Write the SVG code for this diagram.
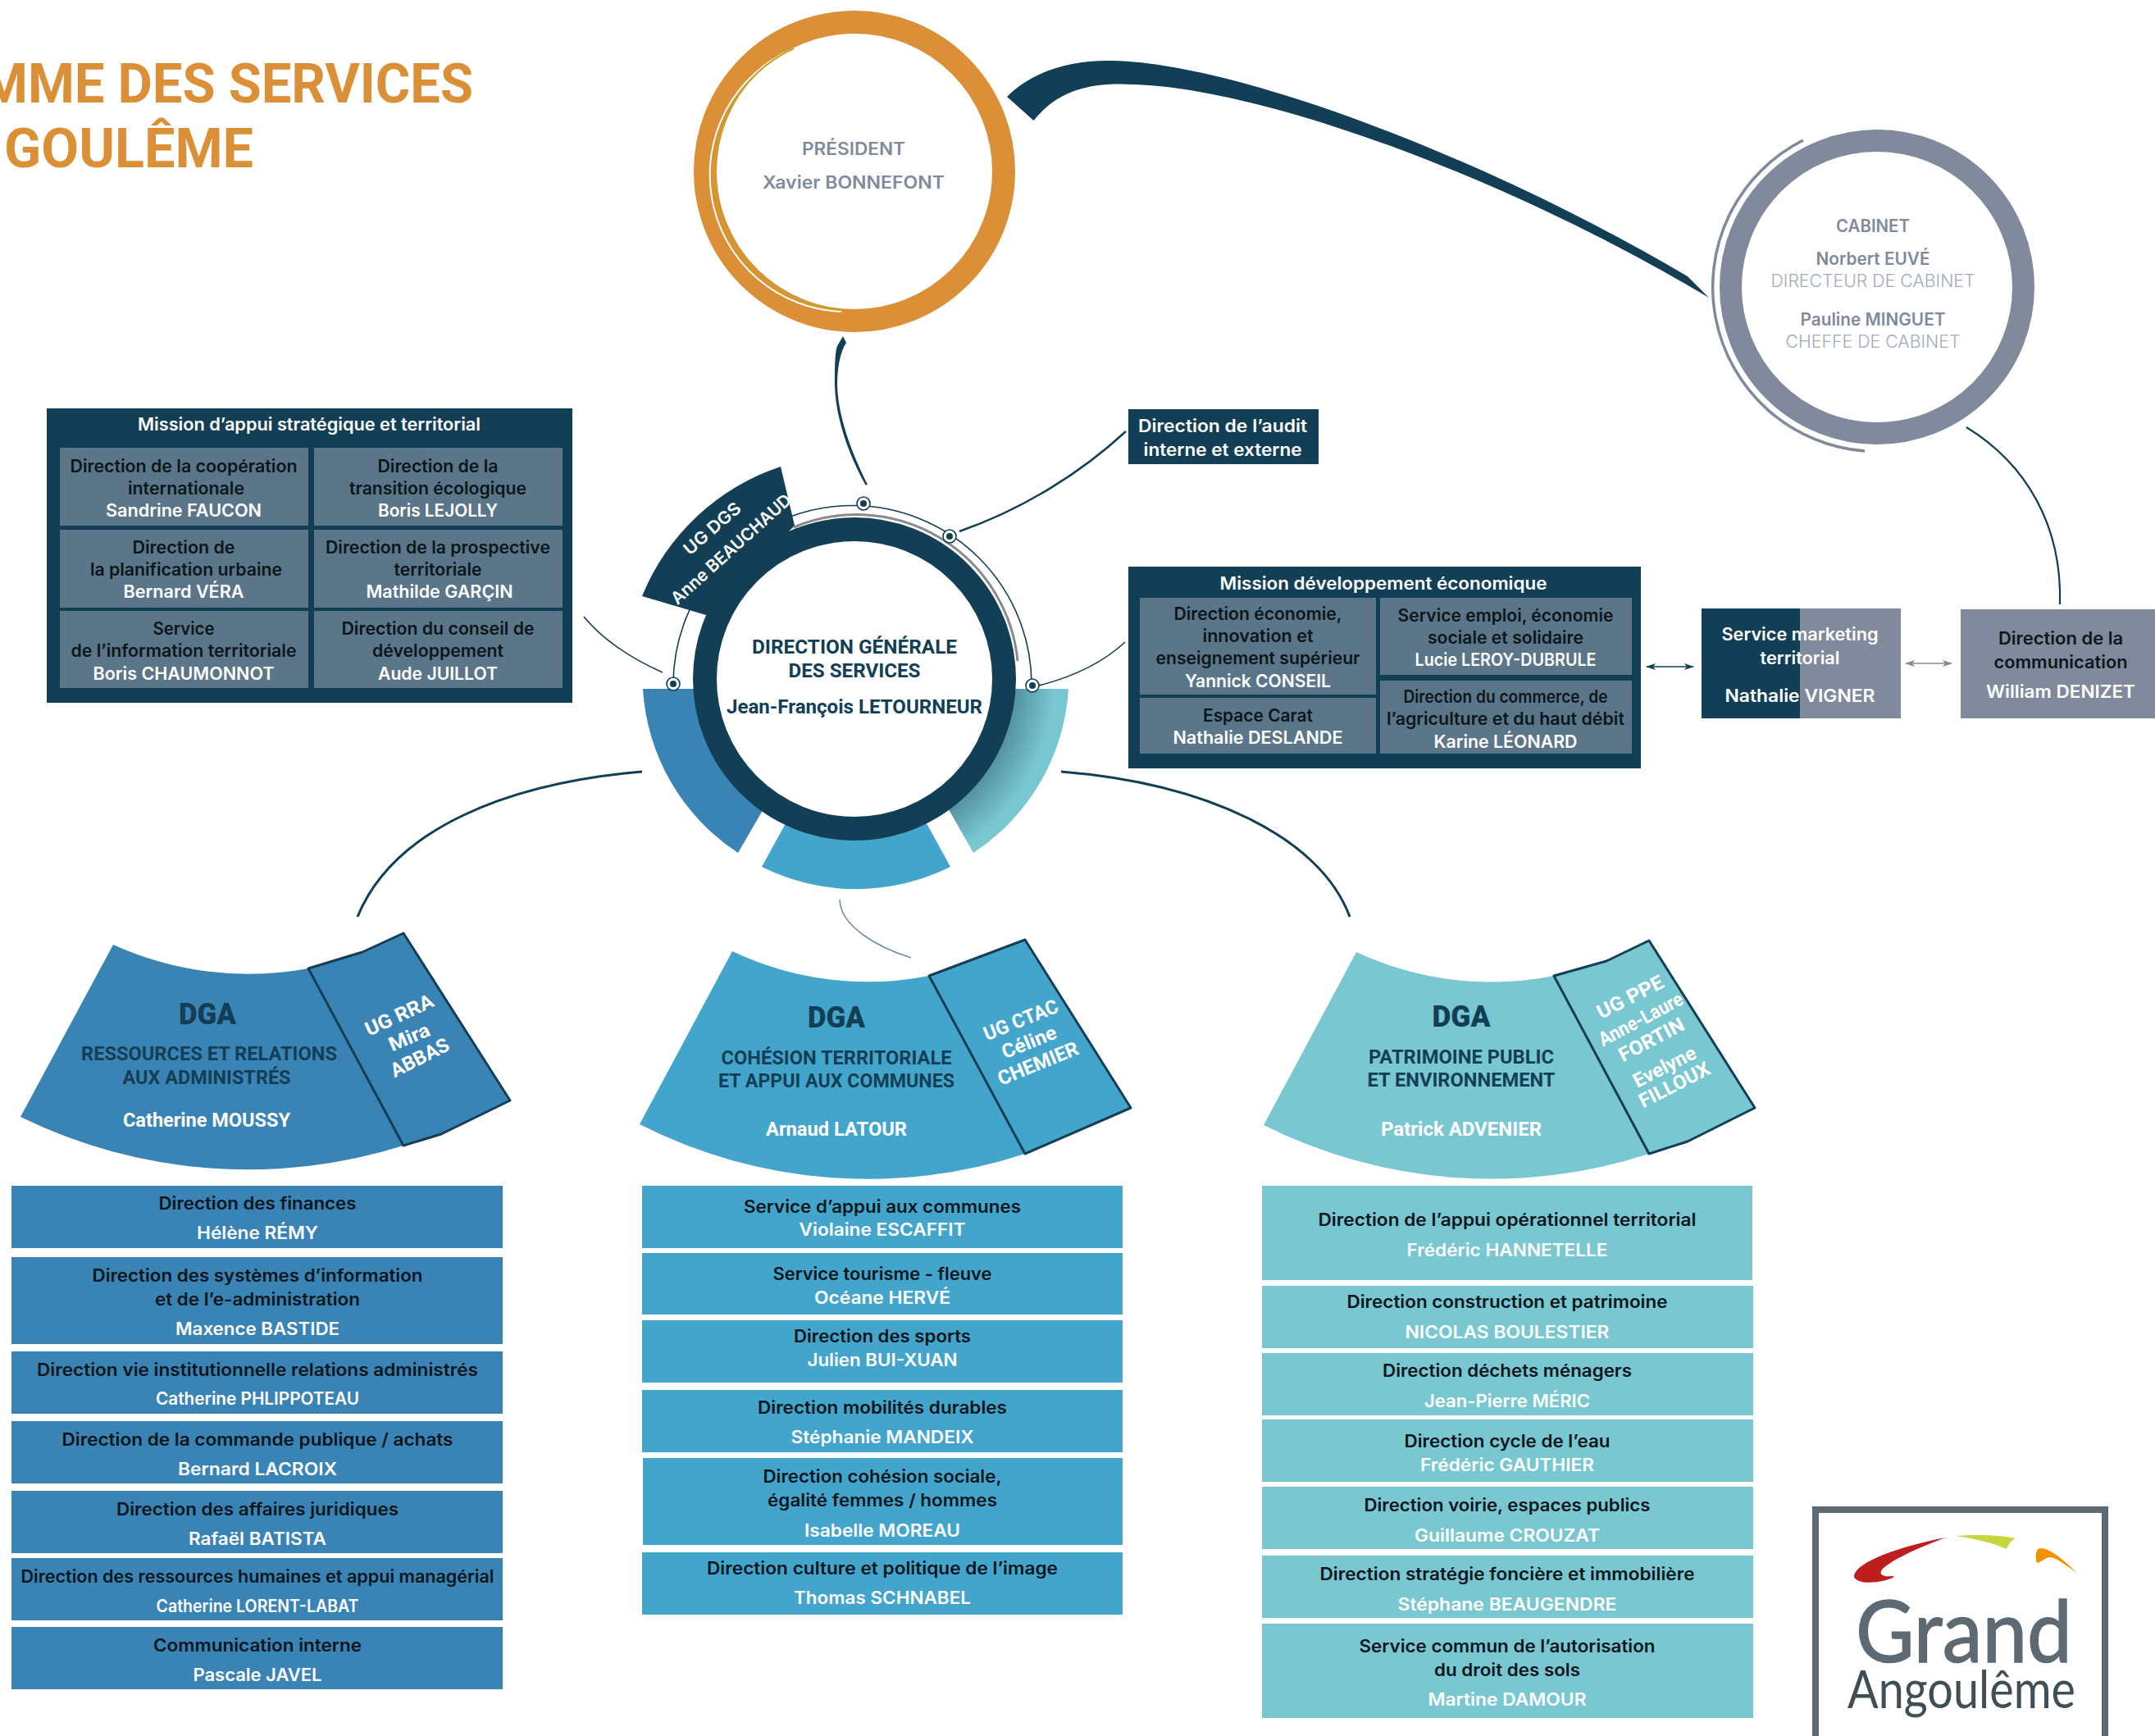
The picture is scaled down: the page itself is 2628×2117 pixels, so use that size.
<svg xmlns="http://www.w3.org/2000/svg" width="2628" height="2117" viewBox="0 0 2628 2117">
<style>
text{text-anchor:middle}
.b{font-family:"Inter","Liberation Sans",sans-serif;font-weight:600;font-size:21px}
.n{font-family:"Roboto","Liberation Sans",sans-serif;font-weight:700;font-size:24px}
.h{font-family:"Roboto","Liberation Sans",sans-serif;font-weight:900;font-size:36px;fill:#123F55}
.l{font-family:"Inter","Liberation Sans",sans-serif;font-weight:300;font-size:21px;fill:#A3ABB8}
.k{fill:#0B161C}.w{fill:#fff}.g{fill:#7F8A9C}.dk{fill:#123F55}
.ttl{font-family:"Roboto","Liberation Sans",sans-serif;font-weight:700;font-size:67px;fill:#DB8F37}
.c1{fill:#3A83B5}.c2{fill:#43A5CC}.c3{fill:#79C7D1}.cell{fill:#5A7688}.dark{fill:#123F55}.gr{fill:#808A9C}
.pan{fill:none;stroke:#123F55;stroke-width:3;stroke-linejoin:round}
.ln{fill:none;stroke:#123F55}
.dot{fill:#fff;stroke:#123F55;stroke-width:1.6}
</style>
<defs>
<marker id="ad" viewBox="0 0 12 8" refX="11" refY="4" markerWidth="12" markerHeight="8" markerUnits="userSpaceOnUse" orient="auto-start-reverse"><path d="M12,4 L0,0 L3,4 L0,8 Z" fill="#123F55"/></marker>
<marker id="ag" viewBox="0 0 12 8" refX="11" refY="4" markerWidth="12" markerHeight="8" markerUnits="userSpaceOnUse" orient="auto-start-reverse"><path d="M12,4 L0,0 L3,4 L0,8 Z" fill="#808A9C"/></marker>
<radialGradient id="sh" gradientUnits="userSpaceOnUse" cx="1042" cy="828" r="257"><stop offset="0.74" stop-color="#4F8C99"/><stop offset="0.95" stop-color="#79C7D1"/></radialGradient>
</defs>

<g id="title">
<text class="ttl" x="577" y="125" style="text-anchor:end" textLength="600" lengthAdjust="spacingAndGlyphs">MME DES SERVICES</text>
<text class="ttl" x="157" y="204" textLength="304" lengthAdjust="spacingAndGlyphs">GOULÊME</text>
</g>

<g id="connectors">
<path fill="#123F55" d="M1228,118 C1255,90 1300,73 1356,74 C1500,76 1800,185 2058,337 L2084,363 C1810,200 1520,106 1382,103 C1330,100 1290,110 1260.5,147 Z"/>
<path fill="#123F55" d="M1028,410 L1032,418 C1024,430 1021,450 1021,470 C1022,510 1040,555 1058,591 L1055.5,591.5 C1035,555 1019,510 1018,470 C1018,450 1018,430 1021,422 Z"/>
<path class="ln" stroke-width="2.5" d="M1170,648 C1250,620 1320,575 1373,526"/>
<path class="ln" stroke-width="1.6" d="M808,820 C770,803 735,780 712,752"/>
<path class="ln" stroke-width="1.6" d="M1267,836 C1310,825 1345,808 1372,783"/>
<path class="ln" stroke-width="3" d="M783,941 C620,955 480,1010 436,1118"/>
<path class="ln" stroke-width="3" d="M1294,941 C1470,955 1610,1020 1646,1118"/>
<path fill="none" stroke="#6F93A3" stroke-width="1.6" d="M1024,1097 C1025,1130 1070,1155 1111,1168"/>
<path class="ln" stroke-width="2.2" d="M2398,521 C2470,565 2515,640 2512,737"/>
<line x1="2008" y1="813" x2="2065" y2="813" stroke="#123F55" stroke-width="1.5" marker-start="url(#ad)" marker-end="url(#ad)"/>
<line x1="2324" y1="809" x2="2380" y2="809" stroke="#808A9C" stroke-width="1.5" marker-start="url(#ag)" marker-end="url(#ag)"/>
</g>

<g id="president">
<circle cx="1042" cy="209" r="182" fill="none" stroke="#DB8F37" stroke-width="28"/>
<path fill="none" stroke="#fff" stroke-width="2" d="M966,60 A167,167 0 0 0 1026,380"/>
<path fill="none" stroke="#C9A227" stroke-width="2" d="M968,59 A165,167 0 0 0 1028,378"/>
<text class="b g" x="1041" y="189" textLength="126" lengthAdjust="spacingAndGlyphs">PRÉSIDENT</text>
<text class="b g" x="1041" y="230" textLength="222" lengthAdjust="spacingAndGlyphs">Xavier BONNEFONT</text>
</g>

<g id="cabinet">
<circle cx="2289" cy="350" r="178.5" fill="none" stroke="#808A9C" stroke-width="27"/>
<path fill="none" stroke="#808A9C" stroke-width="3.5" d="M2199,171 A200.5,200.5 0 0 0 2274,550"/>
<text class="b g" x="2284" y="283" textLength="90" lengthAdjust="spacingAndGlyphs">CABINET</text>
<text class="b g" x="2284" y="323" textLength="139" lengthAdjust="spacingAndGlyphs">Norbert EUVÉ</text>
<text class="l" x="2284" y="350" textLength="249" lengthAdjust="spacingAndGlyphs">DIRECTEUR DE CABINET</text>
<text class="b g" x="2284" y="397" textLength="177" lengthAdjust="spacingAndGlyphs">Pauline MINGUET</text>
<text class="l" x="2284" y="424" textLength="213" lengthAdjust="spacingAndGlyphs">CHEFFE DE CABINET</text>
</g>

<g id="service-marketing">
<rect class="dark" x="2075" y="742" width="120" height="134"/>
<rect class="gr" x="2195" y="742" width="123" height="134"/>
<text class="b w" x="2195" y="781" textLength="191" lengthAdjust="spacingAndGlyphs">Service marketing</text>
<text class="b w" x="2195" y="810" textLength="97" lengthAdjust="spacingAndGlyphs">territorial</text>
<text class="b w" x="2195" y="856" textLength="183" lengthAdjust="spacingAndGlyphs">Nathalie VIGNER</text>
</g>

<g id="direction-communication">
<rect class="gr" x="2391" y="743" width="237" height="133"/>
<text class="b k" x="2513" y="786" textLength="152" lengthAdjust="spacingAndGlyphs">Direction de la</text>
<text class="b k" x="2513" y="815" textLength="163" lengthAdjust="spacingAndGlyphs">communication</text>
<text class="b w" x="2513" y="851" textLength="182" lengthAdjust="spacingAndGlyphs">William DENIZET</text>
</g>

<g id="dgs">
<path fill="none" stroke="#123F55" stroke-width="1.6" d="M821,834 A218.5,218.5 0 0 1 1258,836"/>
<path class="c1" d="M784,840 A257,257 0 0 0 900,1040 L929,990 L1000,900 L850,840 Z"/>
<path class="c2" d="M929,1057 A257,257 0 0 0 1159,1057 L1131,1006 L1042,900 L957,1006 Z"/>
<path fill="url(#sh)" d="M1303,840 A257,257 0 0 1 1187,1040 L1158,989 L1100,900 L1230,840 Z"/>
<path class="dark" d="M783,727 A276,276 0 0 1 952,569 L969,641 L861,750 Z"/>
<path fill="none" stroke="#8A8A8A" stroke-width="3" d="M968,643 A197.5,197.5 0 0 1 1241,806"/>
<circle cx="1042" cy="828" r="182.5" fill="#fff" stroke="#123F55" stroke-width="29"/>
<circle class="dot" cx="821" cy="834" r="8"/><circle class="dark" cx="821" cy="834" r="4"/>
<circle class="dot" cx="1053" cy="614" r="8"/><circle class="dark" cx="1053" cy="614" r="4"/>
<circle class="dot" cx="1158" cy="654" r="8"/><circle class="dark" cx="1158" cy="654" r="4"/>
<circle class="dot" cx="1259" cy="836" r="8"/><circle class="dark" cx="1259" cy="836" r="4"/>
<text class="n dk" x="1042" y="797" textLength="250" lengthAdjust="spacingAndGlyphs">DIRECTION GÉNÉRALE</text>
<text class="n dk" x="1042" y="826" textLength="161" lengthAdjust="spacingAndGlyphs">DES SERVICES</text>
<text class="n dk" x="1042" y="870" textLength="312" lengthAdjust="spacingAndGlyphs">Jean-François LETOURNEUR</text>
<text class="b w" transform="translate(868,644) rotate(-41)" y="8" textLength="85" lengthAdjust="spacingAndGlyphs">UG DGS</text>
<text class="b w" transform="translate(891,669) rotate(-42)" y="8" textLength="189" lengthAdjust="spacingAndGlyphs">Anne BEAUCHAUD</text>
</g>

<g id="mission-appui">
<rect class="dark" x="57" y="498" width="641" height="359"/>
<rect class="cell" x="73" y="546" width="303" height="95"/><rect class="cell" x="383" y="546" width="303" height="95"/>
<rect class="cell" x="73" y="646" width="303" height="95"/><rect class="cell" x="383" y="646" width="303" height="95"/>
<rect class="cell" x="73" y="745" width="303" height="94"/><rect class="cell" x="383" y="745" width="303" height="94"/>
<text class="b w" x="377" y="525" textLength="418" lengthAdjust="spacingAndGlyphs">Mission d’appui stratégique et territorial</text>
<text class="b k" x="224" y="576" textLength="277" lengthAdjust="spacingAndGlyphs">Direction de la coopération</text>
<text class="b k" x="227" y="603" textLength="142" lengthAdjust="spacingAndGlyphs">internationale</text>
<text class="b w" x="224" y="630" textLength="190" lengthAdjust="spacingAndGlyphs">Sandrine FAUCON</text>
<text class="b k" x="534" y="576" textLength="147" lengthAdjust="spacingAndGlyphs">Direction de la</text>
<text class="b k" x="534" y="603" textLength="216" lengthAdjust="spacingAndGlyphs">transition écologique</text>
<text class="b w" x="534" y="630" textLength="146" lengthAdjust="spacingAndGlyphs">Boris LEJOLLY</text>
<text class="b k" x="224" y="675" textLength="125" lengthAdjust="spacingAndGlyphs">Direction de</text>
<text class="b k" x="227" y="702" textLength="234" lengthAdjust="spacingAndGlyphs">la planification urbaine</text>
<text class="b w" x="224" y="729" textLength="147" lengthAdjust="spacingAndGlyphs">Bernard VÉRA</text>
<text class="b k" x="534" y="675" textLength="274" lengthAdjust="spacingAndGlyphs">Direction de la prospective</text>
<text class="b k" x="534" y="702" textLength="107" lengthAdjust="spacingAndGlyphs">territoriale</text>
<text class="b w" x="536" y="729" textLength="179" lengthAdjust="spacingAndGlyphs">Mathilde GARÇIN</text>
<text class="b k" x="224" y="774" textLength="75" lengthAdjust="spacingAndGlyphs">Service</text>
<text class="b k" x="224" y="801" textLength="275" lengthAdjust="spacingAndGlyphs">de l’information territoriale</text>
<text class="b w" x="224" y="829" textLength="221" lengthAdjust="spacingAndGlyphs">Boris CHAUMONNOT</text>
<text class="b k" x="534" y="774" textLength="235" lengthAdjust="spacingAndGlyphs">Direction du conseil de</text>
<text class="b k" x="534" y="801" textLength="160" lengthAdjust="spacingAndGlyphs">développement</text>
<text class="b w" x="534" y="829" textLength="146" lengthAdjust="spacingAndGlyphs">Aude JUILLOT</text>
</g>

<g id="direction-audit">
<rect class="dark" x="1376" y="499" width="232" height="67"/>
<text class="b w" x="1491" y="527" textLength="206" lengthAdjust="spacingAndGlyphs">Direction de l’audit</text>
<text class="b w" x="1491" y="556" textLength="193" lengthAdjust="spacingAndGlyphs">interne et externe</text>
</g>

<g id="mission-eco">
<rect class="dark" x="1376" y="691" width="625" height="246"/>
<rect class="cell" x="1390" y="729" width="288" height="118"/><rect class="cell" x="1390" y="851" width="288" height="68"/>
<rect class="cell" x="1683" y="729" width="307" height="94"/><rect class="cell" x="1683" y="830" width="307" height="89"/>
<text class="b w" x="1687" y="719" textLength="399" lengthAdjust="spacingAndGlyphs">Mission développement économique</text>
<text class="b k" x="1534" y="756" textLength="205" lengthAdjust="spacingAndGlyphs">Direction économie,</text>
<text class="b k" x="1534" y="783" textLength="135" lengthAdjust="spacingAndGlyphs">innovation et</text>
<text class="b k" x="1534" y="810" textLength="249" lengthAdjust="spacingAndGlyphs">enseignement supérieur</text>
<text class="b w" x="1534" y="838" textLength="178" lengthAdjust="spacingAndGlyphs">Yannick CONSEIL</text>
<text class="b k" x="1534" y="880" textLength="134" lengthAdjust="spacingAndGlyphs">Espace Carat</text>
<text class="b w" x="1534" y="907" textLength="207" lengthAdjust="spacingAndGlyphs">Nathalie DESLANDE</text>
<text class="b k" x="1836" y="758" textLength="263" lengthAdjust="spacingAndGlyphs">Service emploi, économie</text>
<text class="b k" x="1836" y="785" textLength="190" lengthAdjust="spacingAndGlyphs">sociale et solidaire</text>
<text class="b w" x="1836" y="812" textLength="221" lengthAdjust="spacingAndGlyphs">Lucie LEROY-DUBRULE</text>
<text class="b k" x="1836" y="857" textLength="249" lengthAdjust="spacingAndGlyphs">Direction du commerce, de</text>
<text class="b k" x="1836" y="884" textLength="290" lengthAdjust="spacingAndGlyphs">l’agriculture et du haut débit</text>
<text class="b w" x="1836" y="912" textLength="175" lengthAdjust="spacingAndGlyphs">Karine LÉONARD</text>
</g>

<g id="dga-ressources">
<path class="c1" d="M138,1152 A400,400 0 0 0 376,1181 L442,1161 L492,1138 L622,1342 L538,1383 L492,1397 A631,631 0 0 1 25,1362 Z"/>
<path class="pan" d="M376,1181 L442,1161 L492,1138 L622,1342 L538,1383 L492,1397 Z"/>
<text class="h" x="253" y="1249" textLength="70" lengthAdjust="spacingAndGlyphs">DGA</text>
<text class="n dk" x="255" y="1293" textLength="312" lengthAdjust="spacingAndGlyphs">RESSOURCES ET RELATIONS</text>
<text class="n dk" x="252" y="1322" textLength="205" lengthAdjust="spacingAndGlyphs">AUX ADMINISTRÉS</text>
<text class="n w" x="252" y="1374" textLength="204" lengthAdjust="spacingAndGlyphs">Catherine MOUSSY</text>
<text class="n w" transform="translate(487,1238) rotate(-25)" y="8" textLength="89" lengthAdjust="spacingAndGlyphs">UG RRA</text>
<text class="n w" transform="translate(499,1265) rotate(-23)" y="8" textLength="52" lengthAdjust="spacingAndGlyphs">Mira</text>
<text class="n w" transform="translate(512,1290) rotate(-27)" y="8" textLength="77" lengthAdjust="spacingAndGlyphs">ABBAS</text>
</g>

<g id="dga-cohesion">
<path class="c2" d="M893,1160 A385,385 0 0 0 1133,1190 L1250,1146 L1379,1351 L1250,1407 A614,614 0 0 1 780,1371 Z"/>
<path class="pan" d="M1133,1190 L1250,1146 L1379,1351 L1250,1407 Z"/>
<text class="h" x="1020" y="1253" textLength="70" lengthAdjust="spacingAndGlyphs">DGA</text>
<text class="n dk" x="1020" y="1298" textLength="281" lengthAdjust="spacingAndGlyphs">COHÉSION TERRITORIALE</text>
<text class="n dk" x="1020" y="1326" textLength="288" lengthAdjust="spacingAndGlyphs">ET APPUI AUX COMMUNES</text>
<text class="n w" x="1020" y="1385" textLength="172" lengthAdjust="spacingAndGlyphs">Arnaud LATOUR</text>
<text class="n w" transform="translate(1245,1244) rotate(-22)" y="8" textLength="96" lengthAdjust="spacingAndGlyphs">UG CTAC</text>
<text class="n w" transform="translate(1255,1271) rotate(-22)" y="8" textLength="70" lengthAdjust="spacingAndGlyphs">Céline</text>
<text class="n w" transform="translate(1266,1297) rotate(-22)" y="8" textLength="104" lengthAdjust="spacingAndGlyphs">CHEMIER</text>
</g>

<g id="dga-patrimoine">
<path class="c3" d="M1654,1161 A390,390 0 0 0 1895,1190 L1959,1172 L2011,1147 L2140,1351 L2058,1392 L2011,1407 A620,620 0 0 1 1541,1372 Z"/>
<path class="pan" d="M1895,1190 L1959,1172 L2011,1147 L2140,1351 L2058,1392 L2011,1407 Z"/>
<text class="h" x="1782" y="1252" textLength="71" lengthAdjust="spacingAndGlyphs">DGA</text>
<text class="n dk" x="1782" y="1297" textLength="226" lengthAdjust="spacingAndGlyphs">PATRIMOINE PUBLIC</text>
<text class="n dk" x="1782" y="1325" textLength="229" lengthAdjust="spacingAndGlyphs">ET ENVIRONNEMENT</text>
<text class="n w" x="1782" y="1385" textLength="196" lengthAdjust="spacingAndGlyphs">Patrick ADVENIER</text>
<text class="n w" transform="translate(1988,1216) rotate(-27)" y="8" textLength="88" lengthAdjust="spacingAndGlyphs">UG PPE</text>
<text class="n w" transform="translate(2001,1243) rotate(-28)" y="8" textLength="113" lengthAdjust="spacingAndGlyphs">Anne-Laure</text>
<text class="n w" transform="translate(2014,1268) rotate(-28)" y="8" textLength="87" lengthAdjust="spacingAndGlyphs">FORTIN</text>
<text class="n w" transform="translate(2030,1301) rotate(-27)" y="8" textLength="83" lengthAdjust="spacingAndGlyphs">Evelyne</text>
<text class="n w" transform="translate(2042,1323) rotate(-27)" y="8" textLength="94" lengthAdjust="spacingAndGlyphs">FILLOUX</text>
</g>

<g id="col-ressources">
<rect class="c1" x="14" y="1446" width="599" height="76"/><rect class="c1" x="14" y="1533" width="599" height="106"/><rect class="c1" x="14" y="1648" width="599" height="76"/><rect class="c1" x="14" y="1733" width="599" height="76"/><rect class="c1" x="14" y="1818" width="599" height="76"/><rect class="c1" x="14" y="1900" width="599" height="76"/><rect class="c1" x="14" y="1984" width="599" height="76"/>
<text class="b k" x="314" y="1475" textLength="241" lengthAdjust="spacingAndGlyphs">Direction des finances</text>
<text class="b w" x="314" y="1511" textLength="148" lengthAdjust="spacingAndGlyphs">Hélène RÉMY</text>
<text class="b k" x="314" y="1563" textLength="403" lengthAdjust="spacingAndGlyphs">Direction des systèmes d’information</text>
<text class="b k" x="314" y="1592" textLength="250" lengthAdjust="spacingAndGlyphs">et de l’e-administration</text>
<text class="b w" x="314" y="1628" textLength="200" lengthAdjust="spacingAndGlyphs">Maxence BASTIDE</text>
<text class="b k" x="314" y="1678" textLength="538" lengthAdjust="spacingAndGlyphs">Direction vie institutionnelle relations administrés</text>
<text class="b w" x="314" y="1713" textLength="248" lengthAdjust="spacingAndGlyphs">Catherine PHLIPPOTEAU</text>
<text class="b k" x="314" y="1763" textLength="477" lengthAdjust="spacingAndGlyphs">Direction de la commande publique / achats</text>
<text class="b w" x="314" y="1799" textLength="194" lengthAdjust="spacingAndGlyphs">Bernard LACROIX</text>
<text class="b k" x="314" y="1848" textLength="344" lengthAdjust="spacingAndGlyphs">Direction des affaires juridiques</text>
<text class="b w" x="314" y="1884" textLength="168" lengthAdjust="spacingAndGlyphs">Rafaël BATISTA</text>
<text class="b k" x="314" y="1930" textLength="577" lengthAdjust="spacingAndGlyphs">Direction des ressources humaines et appui managérial</text>
<text class="b w" x="314" y="1966" textLength="247" lengthAdjust="spacingAndGlyphs">Catherine LORENT-LABAT</text>
<text class="b k" x="314" y="2014" textLength="254" lengthAdjust="spacingAndGlyphs">Communication interne</text>
<text class="b w" x="314" y="2050" textLength="157" lengthAdjust="spacingAndGlyphs">Pascale JAVEL</text>
</g>

<g id="col-cohesion">
<rect class="c2" x="783" y="1446" width="586" height="76"/><rect class="c2" x="783" y="1528" width="586" height="75"/><rect class="c2" x="783" y="1610" width="586" height="76"/><rect class="c2" x="783" y="1695" width="586" height="76"/><rect class="c2" x="784" y="1778" width="585" height="106"/><rect class="c2" x="783" y="1893" width="586" height="76"/>
<text class="b k" x="1076" y="1479" textLength="338" lengthAdjust="spacingAndGlyphs">Service d’appui aux communes</text>
<text class="b w" x="1076" y="1507" textLength="203" lengthAdjust="spacingAndGlyphs">Violaine ESCAFFIT</text>
<text class="b k" x="1076" y="1561" textLength="267" lengthAdjust="spacingAndGlyphs">Service tourisme - fleuve</text>
<text class="b w" x="1076" y="1590" textLength="166" lengthAdjust="spacingAndGlyphs">Océane HERVÉ</text>
<text class="b k" x="1076" y="1637" textLength="216" lengthAdjust="spacingAndGlyphs">Direction des sports</text>
<text class="b w" x="1076" y="1666" textLength="183" lengthAdjust="spacingAndGlyphs">Julien BUI-XUAN</text>
<text class="b k" x="1076" y="1724" textLength="304" lengthAdjust="spacingAndGlyphs">Direction mobilités durables</text>
<text class="b w" x="1076" y="1760" textLength="223" lengthAdjust="spacingAndGlyphs">Stéphanie MANDEIX</text>
<text class="b k" x="1076" y="1808" textLength="291" lengthAdjust="spacingAndGlyphs">Direction cohésion sociale,</text>
<text class="b k" x="1076" y="1837" textLength="280" lengthAdjust="spacingAndGlyphs">égalité femmes / hommes</text>
<text class="b w" x="1076" y="1874" textLength="190" lengthAdjust="spacingAndGlyphs">Isabelle MOREAU</text>
<text class="b k" x="1076" y="1920" textLength="428" lengthAdjust="spacingAndGlyphs">Direction culture et politique de l’image</text>
<text class="b w" x="1076" y="1956" textLength="216" lengthAdjust="spacingAndGlyphs">Thomas SCHNABEL</text>
</g>

<g id="col-patrimoine">
<rect class="c3" x="1539" y="1446" width="598" height="115"/><rect class="c3" x="1539" y="1568" width="599" height="76"/><rect class="c3" x="1539" y="1650" width="599" height="76"/><rect class="c3" x="1539" y="1731" width="599" height="76"/><rect class="c3" x="1539" y="1813" width="599" height="76"/><rect class="c3" x="1539" y="1897" width="599" height="76"/><rect class="c3" x="1539" y="1980" width="599" height="115"/>
<text class="b k" x="1838" y="1495" textLength="461" lengthAdjust="spacingAndGlyphs">Direction de l’appui opérationnel territorial</text>
<text class="b w" x="1838" y="1532" textLength="245" lengthAdjust="spacingAndGlyphs">Frédéric HANNETELLE</text>
<text class="b k" x="1838" y="1595" textLength="391" lengthAdjust="spacingAndGlyphs">Direction construction et patrimoine</text>
<text class="b w" x="1838" y="1632" textLength="249" lengthAdjust="spacingAndGlyphs">NICOLAS BOULESTIER</text>
<text class="b k" x="1838" y="1679" textLength="304" lengthAdjust="spacingAndGlyphs">Direction déchets ménagers</text>
<text class="b w" x="1838" y="1716" textLength="202" lengthAdjust="spacingAndGlyphs">Jean-Pierre MÉRIC</text>
<text class="b k" x="1838" y="1765" textLength="251" lengthAdjust="spacingAndGlyphs">Direction cycle de l’eau</text>
<text class="b w" x="1838" y="1794" textLength="212" lengthAdjust="spacingAndGlyphs">Frédéric GAUTHIER</text>
<text class="b k" x="1838" y="1843" textLength="349" lengthAdjust="spacingAndGlyphs">Direction voirie, espaces publics</text>
<text class="b w" x="1838" y="1880" textLength="226" lengthAdjust="spacingAndGlyphs">Guillaume CROUZAT</text>
<text class="b k" x="1838" y="1927" textLength="457" lengthAdjust="spacingAndGlyphs">Direction stratégie foncière et immobilière</text>
<text class="b w" x="1838" y="1964" textLength="267" lengthAdjust="spacingAndGlyphs">Stéphane BEAUGENDRE</text>
<text class="b k" x="1838" y="2015" textLength="361" lengthAdjust="spacingAndGlyphs">Service commun de l’autorisation</text>
<text class="b k" x="1838" y="2044" textLength="178" lengthAdjust="spacingAndGlyphs">du droit des sols</text>
<text class="b w" x="1838" y="2080" textLength="193" lengthAdjust="spacingAndGlyphs">Martine DAMOUR</text>
</g>

<g id="logo">
<path d="M2214,2117 V1841 H2567 V2117" fill="none" stroke="#5D6A73" stroke-width="8"/>
<path fill="#BE1E1E" d="M2373,1875 C2320,1885 2260,1905 2261,1923 C2265,1933 2295,1931 2310,1923 L2308,1922 C2298,1923 2292,1921 2294,1916 C2300,1905 2340,1887 2373,1875Z"/>
<path fill="#C6D63F" d="M2386,1873 C2410,1871 2440,1872 2458,1876 C2452,1879 2449,1884 2447,1889 C2430,1881 2405,1876 2386,1873Z"/>
<path fill="#F39200" d="M2533,1918 C2517,1903 2502,1889 2489,1888 C2482,1887 2482,1900 2484,1906 C2490,1905 2495,1898 2501,1899 C2510,1901 2522,1911 2533,1918Z"/>
<text x="2395" y="2027" font-family="Lato, sans-serif" font-size="104" fill="#5D6A73" stroke="#5D6A73" stroke-width="1.5" textLength="264" lengthAdjust="spacingAndGlyphs">Grand</text>
<text x="2392" y="2083" font-family="Lato, sans-serif" font-size="64" fill="#404F56" textLength="278" lengthAdjust="spacingAndGlyphs">Angoulême</text>
</g>
</svg>
